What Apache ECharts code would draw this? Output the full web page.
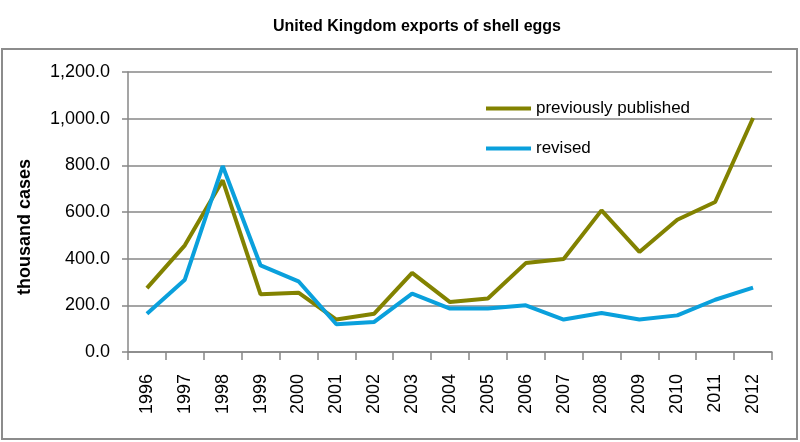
<!DOCTYPE html>
<html>
<head>
<meta charset="utf-8">
<script src="https://cdn.jsdelivr.net/npm/echarts@6/dist/echarts.min.js"></script>
<style>html,body{margin:0;padding:0;background:#fff;}#c{width:800px;height:442px;}</style>
</head>
<body>
<div id="c"></div>
<script>
const years = ['1996','1997','1998','1999','2000','2001','2002','2003','2004','2005','2006','2007','2008','2009','2010','2011','2012'];
const previouslyPublished = [274, 457, 736, 247, 254, 139, 164, 339, 214, 229, 381, 399, 607, 429, 567, 643, 1003];
const revised = [164, 310, 797, 371, 303, 119, 129, 250, 186, 186, 200, 139, 167, 139, 157, 224, 276];
const yTicks = { min: 0, max: 1200, interval: 200 };

const chart = echarts.init(document.getElementById('c'));
const fmt = v => {
  const s = v.toFixed(1);
  const [i, d] = s.split('.');
  return i.replace(/\B(?=(\d{3})+(?!\d))/g, ',') + '.' + d;
};
const gray = '#878787';
chart.setOption({
  animation: false,
  backgroundColor: '#fff',
  title: {
    text: 'United Kingdom exports of shell eggs',
    left: 412, top: 14, textAlign: 'center',
    textStyle: { fontFamily: 'Liberation Sans', fontWeight: 'bold', fontSize: 16, color: '#000' }
  },
  graphic: [
    { type: 'rect', shape: { x: 2, y: 49, width: 795, height: 390 },
      style: { fill: 'none', stroke: '#8c8c8c', lineWidth: 2 }, z: -1 },
    { type: 'text', x: 25, y: 227, rotation: Math.PI / 2,
      style: { text: 'thousand cases', fontFamily: 'Liberation Sans', fontWeight: 'bold', fontSize: 18,
        fill: '#000', align: 'center', verticalAlign: 'middle' } }
  ],
  legend: {
    orient: 'vertical', left: 481, top: 94, itemGap: 21,
    itemWidth: 45, itemHeight: 4, icon: 'rect',
    textStyle: { fontFamily: 'Liberation Sans', fontSize: 17, color: '#000', lineHeight: 19 },
    data: ['previously published', 'revised']
  },
  grid: { left: 128, right: 28, top: 72, bottom: 90 },
  xAxis: {
    type: 'category', data: years, boundaryGap: true,
    axisLine: { lineStyle: { color: gray, width: 1.5 } },
    axisTick: { show: true, length: 8, lineStyle: { color: gray, width: 1.5 } },
    axisLabel: { rotate: 90, margin: 22, fontFamily: 'Liberation Sans', fontSize: 18, color: '#000' },
    splitLine: { show: false }
  },
  yAxis: {
    type: 'value', min: yTicks.min, max: yTicks.max, interval: yTicks.interval,
    axisLine: { show: true, lineStyle: { color: gray, width: 1.5 } },
    axisTick: { show: true, length: 6, lineStyle: { color: gray, width: 1.5 } },
    axisLabel: { margin: 18, fontFamily: 'Liberation Sans', fontSize: 18, color: '#000', formatter: fmt },
    splitLine: { show: true, lineStyle: { color: gray, width: 1.5 } }
  },
  series: [
    { name: 'previously published', type: 'line', data: previouslyPublished, symbol: 'none',
      lineStyle: { color: '#828200', width: 4 }, itemStyle: { color: '#828200' } },
    { name: 'revised', type: 'line', data: revised, symbol: 'none',
      lineStyle: { color: '#0aa0dc', width: 4 }, itemStyle: { color: '#0aa0dc' } }
  ]
});
</script>
</body>
</html>
